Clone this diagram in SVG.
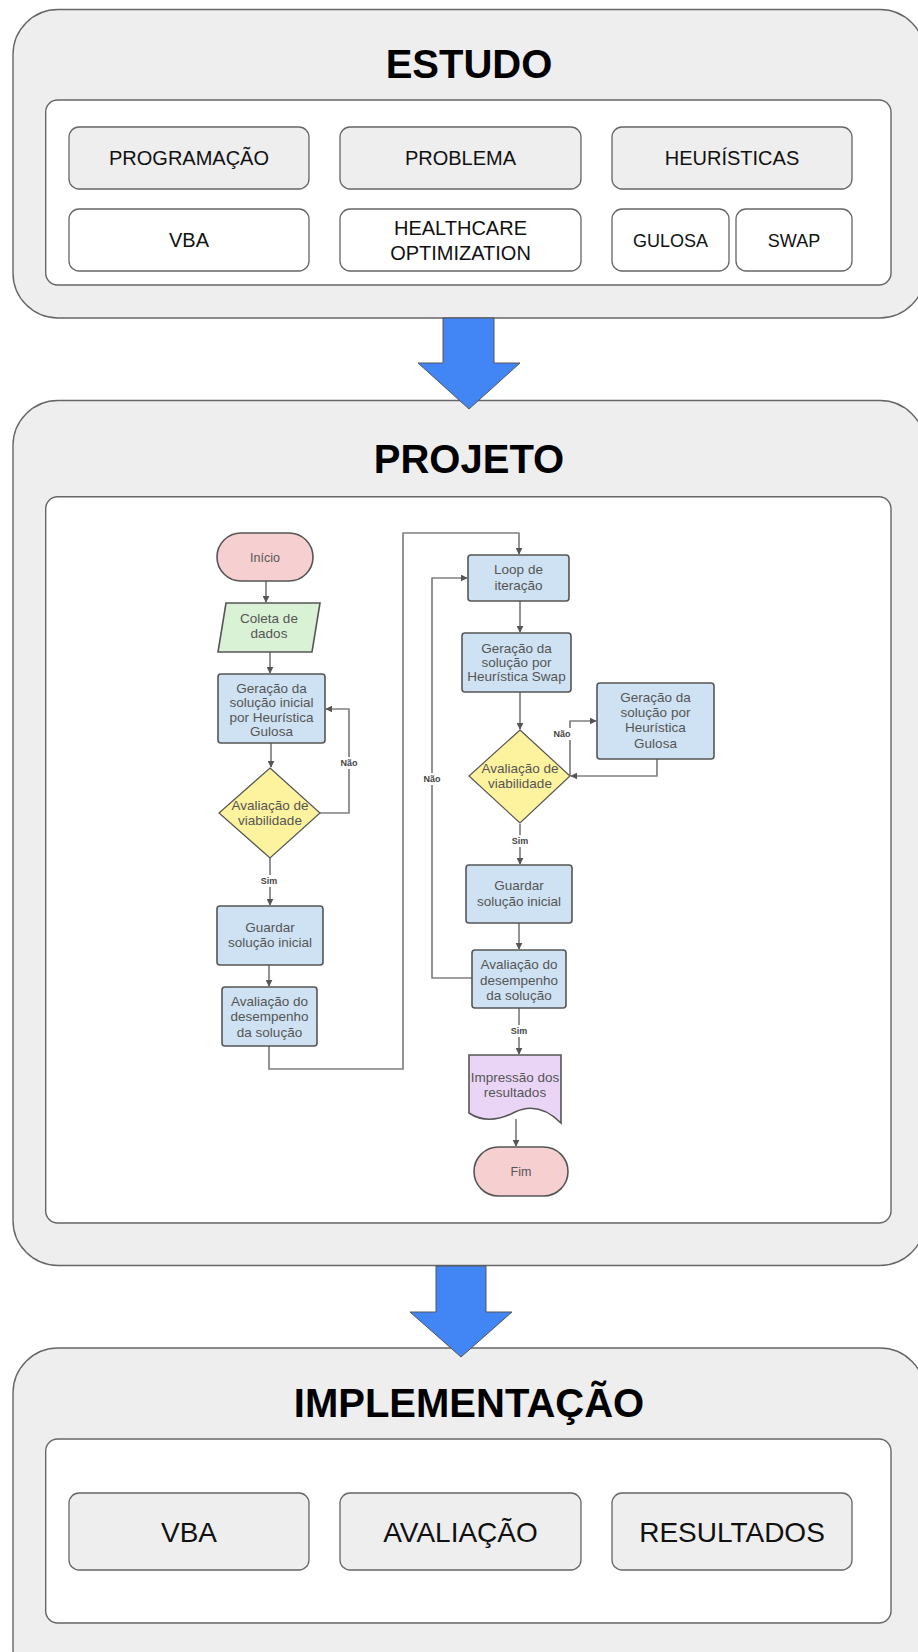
<svg xmlns="http://www.w3.org/2000/svg" width="918" height="1652" viewBox="0 0 918 1652">
<style>
.frame{fill:#eeeeee;stroke:#666;stroke-width:1.4}
.inner{fill:#ffffff;stroke:#666;stroke-width:1.4}
.gbox{fill:#eeeeee;stroke:#666;stroke-width:1.3}
.wbox{fill:#ffffff;stroke:#666;stroke-width:1.3}
.title{font-family:"Liberation Sans",Arial,sans-serif;font-weight:bold;font-size:40px;fill:#000;text-anchor:middle}
.lbl{font-family:"Liberation Sans",Arial,sans-serif;font-size:20px;fill:#111;text-anchor:middle}
.lbl18{font-family:"Liberation Sans",Arial,sans-serif;font-size:18px;fill:#111;text-anchor:middle}
.lbl28{font-family:"Liberation Sans",Arial,sans-serif;font-size:28px;fill:#111;text-anchor:middle}
.big{fill:#4285f4;stroke:#555;stroke-width:1}
.ft{font-family:"Liberation Sans",Arial,sans-serif;font-size:13.5px;fill:#555;text-anchor:middle}
.fs{fill:#555;stroke-width:1.6;stroke:#555}
.blue{fill:#cfe2f3;stroke:#555;stroke-width:1.6}
.pink{fill:#f6cfd1;stroke:#555;stroke-width:1.6}
.green{fill:#d9f2d5;stroke:#555;stroke-width:1.6}
.yellow{fill:#fdf29e;stroke:#555;stroke-width:1.2}
.purple{fill:#ebd5f6;stroke:#555;stroke-width:1.6}
.conn{fill:none;stroke:#808080;stroke-width:1.7;stroke-linejoin:round}
.cl{font-family:"Liberation Sans",Arial,sans-serif;font-size:9px;font-weight:bold;fill:#444;text-anchor:middle}
</style>
<defs>
<marker id="ah" viewBox="0 0 10 10" refX="9" refY="5" markerWidth="7" markerHeight="7" markerUnits="userSpaceOnUse" orient="auto">
<path d="M0,0 L10,5 L0,10 Z" fill="#555"/>
</marker>
</defs>

<!-- ESTUDO -->
<g id="estudo">
<rect class="frame" x="13" y="9.5" width="912" height="308.5" rx="45"/>
<text class="title" x="469" y="78">ESTUDO</text>
<rect class="inner" x="45.7" y="100" width="845.3" height="185" rx="12"/>
</g>
<g id="programacao"><rect class="gbox" x="69" y="127" width="240" height="62" rx="10"/><text class="lbl" x="189" y="165">PROGRAMAÇÃO</text></g>
<g id="problema"><rect class="gbox" x="340" y="127" width="241" height="62" rx="10"/><text class="lbl" x="460.5" y="165">PROBLEMA</text></g>
<g id="heuristicas"><rect class="gbox" x="612" y="127" width="240" height="62" rx="10"/><text class="lbl" x="732" y="165">HEURÍSTICAS</text></g>
<g id="vba1"><rect class="wbox" x="69" y="209" width="240" height="62" rx="10"/><text class="lbl" x="189" y="247">VBA</text></g>
<g id="healthcare"><rect class="wbox" x="340" y="209" width="241" height="62" rx="10"/><text class="lbl" x="460.5" y="235">HEALTHCARE</text><text class="lbl" x="460.5" y="259.5">OPTIMIZATION</text></g>
<g id="gulosa"><rect class="wbox" x="612" y="209" width="117" height="62" rx="10"/><text class="lbl18" x="670.5" y="246.5">GULOSA</text></g>
<g id="swap"><rect class="wbox" x="736" y="209" width="116" height="62" rx="10"/><text class="lbl18" x="794" y="246.5">SWAP</text></g>

<!-- PROJETO -->
<g id="projeto">
<rect class="frame" x="13" y="400.5" width="912" height="865" rx="45"/>
<text class="title" x="469" y="472.5">PROJETO</text>
<rect class="inner" x="45.7" y="496.7" width="845.3" height="726.3" rx="12"/>
</g>

<!-- IMPLEMENTACAO -->
<g id="implementacao">
<rect class="frame" x="13" y="1348" width="912" height="345" rx="45"/>
<text class="title" x="469" y="1417">IMPLEMENTAÇÃO</text>
<rect class="inner" x="45.7" y="1439" width="845.3" height="184" rx="12"/>
</g>
<g id="vba2"><rect class="gbox" x="69" y="1493" width="240" height="77" rx="10"/><text class="lbl28" x="189" y="1541.5">VBA</text></g>
<g id="avaliacao"><rect class="gbox" x="340" y="1493" width="241" height="77" rx="10"/><text class="lbl28" x="460.5" y="1541.5">AVALIAÇÃO</text></g>
<g id="resultados"><rect class="gbox" x="612" y="1493" width="240" height="77" rx="10"/><text class="lbl28" x="732" y="1541.5">RESULTADOS</text></g>

<!-- big arrows -->
<g id="arrow1"><polygon class="big" points="443,318 494,318 494,363 520,363 469,409 418,363 443,363"/></g>
<g id="arrow2"><polygon class="big" points="436,1266 486,1266 486,1312 512,1312 461,1357 410,1312 436,1312"/></g>

<!-- flowchart connectors -->
<g id="connectors">
<path class="conn" d="M266,581 V602" marker-end="url(#ah)"/>
<path class="conn" d="M270,652 V673" marker-end="url(#ah)"/>
<path class="conn" d="M271,743 V767" marker-end="url(#ah)"/>
<path class="conn" d="M320,813 H349 V709 H326" marker-end="url(#ah)"/>
<path class="conn" d="M270,858 V905" marker-end="url(#ah)"/>
<path class="conn" d="M269,965 V986" marker-end="url(#ah)"/>
<path class="conn" d="M269,1046 V1069 H403 V533 H519 V554" marker-end="url(#ah)"/>
<path class="conn" d="M520,601 V632" marker-end="url(#ah)"/>
<path class="conn" d="M520,692 V729" marker-end="url(#ah)"/>
<path class="conn" d="M570,776 V721 H596" marker-end="url(#ah)"/>
<path class="conn" d="M657,759 V776 H571" marker-end="url(#ah)"/>
<path class="conn" d="M520,824 V864" marker-end="url(#ah)"/>
<path class="conn" d="M519,923 V949" marker-end="url(#ah)"/>
<path class="conn" d="M472,978 H432 V578 H467" marker-end="url(#ah)"/>
<path class="conn" d="M519,1008 V1054" marker-end="url(#ah)"/>
<path class="conn" d="M516,1119 V1146" marker-end="url(#ah)"/>
<rect x="338" y="757" width="22" height="12" fill="#fff"/>
<text class="cl" x="349" y="766">Não</text>
<rect x="258" y="875" width="22" height="12" fill="#fff"/>
<text class="cl" x="269" y="884">Sim</text>
<rect x="552" y="728" width="20" height="12" fill="#fff"/>
<text class="cl" x="562" y="737">Não</text>
<rect x="509" y="835" width="22" height="12" fill="#fff"/>
<text class="cl" x="520" y="844">Sim</text>
<rect x="421" y="773" width="22" height="12" fill="#fff"/>
<text class="cl" x="432" y="782">Não</text>
<rect x="508" y="1025" width="22" height="12" fill="#fff"/>
<text class="cl" x="519" y="1034">Sim</text>
</g>

<!-- flowchart nodes -->
<g id="inicio"><rect class="pink" x="217" y="533" width="96" height="48" rx="24"/><text class="ft" x="265" y="561.5" style="font-size:12.5px">Início</text></g>
<g id="coleta"><polygon class="green" points="226,603 320,603 312,652 218,652"/><text class="ft" x="269" y="623">Coleta de</text><text class="ft" x="269" y="638">dados</text></g>
<g id="geracao1"><rect class="blue" x="218" y="674" width="107" height="69" rx="3"/><text class="ft" x="271.5" y="692.5">Geração da</text><text class="ft" x="271.5" y="707">solução inicial</text><text class="ft" x="271.5" y="721.5">por Heurística</text><text class="ft" x="271.5" y="736">Gulosa</text></g>
<g id="viab1"><polygon class="yellow" points="270,768 320,813 270,858 219,813"/><text class="ft" x="270" y="810">Avaliação de</text><text class="ft" x="270" y="825">viabilidade</text></g>
<g id="guardar1"><rect class="blue" x="217" y="906" width="106" height="59" rx="3"/><text class="ft" x="270" y="931.5">Guardar</text><text class="ft" x="270" y="947">solução inicial</text></g>
<g id="desemp1"><rect class="blue" x="222" y="987" width="95" height="59" rx="3"/><text class="ft" x="269.5" y="1006">Avaliação do</text><text class="ft" x="269.5" y="1021">desempenho</text><text class="ft" x="269.5" y="1036.5">da solução</text></g>
<g id="loop"><rect class="blue" x="468" y="555" width="101" height="46" rx="3"/><text class="ft" x="518.5" y="574">Loop de</text><text class="ft" x="518.5" y="589.5">iteração</text></g>
<g id="swapgen"><rect class="blue" x="462" y="633" width="109" height="59" rx="3"/><text class="ft" x="516.5" y="652.5">Geração da</text><text class="ft" x="516.5" y="666.5">solução por</text><text class="ft" x="516.5" y="680.5">Heurística Swap</text></g>
<g id="viab2"><polygon class="yellow" points="520,730 570,776 520,823 469,776"/><text class="ft" x="520" y="773">Avaliação de</text><text class="ft" x="520" y="788">viabilidade</text></g>
<g id="gulosagen"><rect class="blue" x="597" y="683" width="117" height="76" rx="3"/><text class="ft" x="655.5" y="701.5">Geração da</text><text class="ft" x="655.5" y="717">solução por</text><text class="ft" x="655.5" y="732">Heurística</text><text class="ft" x="655.5" y="747.5">Gulosa</text></g>
<g id="guardar2"><rect class="blue" x="466" y="865" width="106" height="58" rx="3"/><text class="ft" x="519" y="890">Guardar</text><text class="ft" x="519" y="906">solução inicial</text></g>
<g id="desemp2"><rect class="blue" x="472" y="950" width="94" height="58" rx="3"/><text class="ft" x="519" y="968.5">Avaliação do</text><text class="ft" x="519" y="984.5">desempenho</text><text class="ft" x="519" y="999.5">da solução</text></g>
<g id="impressao"><path class="purple" d="M469,1055 H561 V1123 C548,1110 532,1104 515,1112 C500,1120 484,1123 469,1113 Z"/><text class="ft" x="515" y="1081.5">Impressão dos</text><text class="ft" x="515" y="1096.5">resultados</text></g>
<g id="fim"><rect class="pink" x="474" y="1147" width="94" height="49" rx="24.5"/><text class="ft" x="521" y="1175.5" style="font-size:12.5px">Fim</text></g>
</svg>
